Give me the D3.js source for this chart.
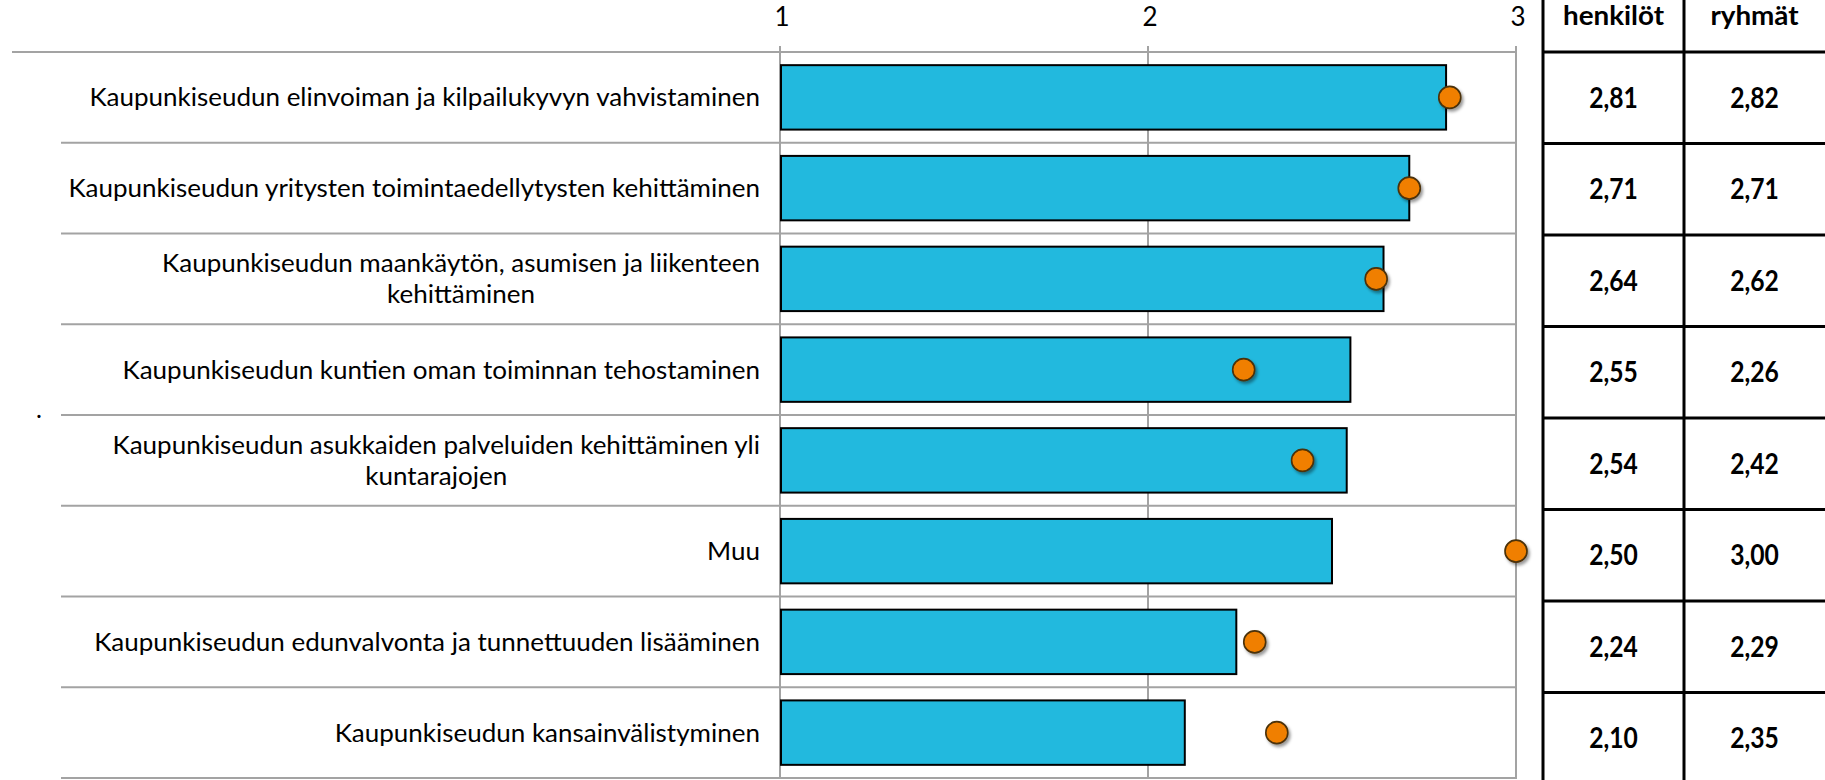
<!DOCTYPE html>
<html><head><meta charset="utf-8">
<script src="https://cdn.jsdelivr.net/npm/d3@7"></script>
<style>body{margin:0;background:#fff} svg{display:block}</style>
</head><body><svg id="c" width="1825" height="780"></svg>
<script>
// ---- data ----
const categories = [
  "Kaupunkiseudun elinvoiman ja kilpailukyvyn vahvistaminen",
  "Kaupunkiseudun yritysten toimintaedellytysten kehittäminen",
  "Kaupunkiseudun maankäytön, asumisen ja liikenteen\nkehittäminen",
  "Kaupunkiseudun kuntien oman toiminnan tehostaminen",
  "Kaupunkiseudun asukkaiden palveluiden kehittäminen yli\nkuntarajojen",
  "Muu",
  "Kaupunkiseudun edunvalvonta ja tunnettuuden lisääminen",
  "Kaupunkiseudun kansainvälistyminen"
];
const henkilot = [2.81, 2.71, 2.64, 2.55, 2.54, 2.50, 2.24, 2.10];
const ryhmat   = [2.82, 2.71, 2.62, 2.26, 2.42, 3.00, 2.29, 2.35];
const xTicks = [1, 2, 3];
const tableHeaders = ["henkilöt", "ryhmät"];

// ---- styles ----
const FONT = "Lato, 'Open Sans', sans-serif";
const LABEL_SIZE = 25, LABEL_SX = 1.04;
const VAL_SIZE = 28, VAL_SX = 0.88;
const HEAD_SIZE = 26, HEAD_SX = 1.07;

const svg = d3.select("#c");
const defs = svg.append("defs");
const f = defs.append("filter").attr("id","sh").attr("x","-50%").attr("y","-50%").attr("width","200%").attr("height","200%");
f.append("feDropShadow").attr("dx",2).attr("dy",2.5).attr("stdDeviation",1.6).attr("flood-color","#000").attr("flood-opacity",0.4);

const x = d3.scaleLinear().domain([1,3]).range([780,1516]);
const y = d3.scaleBand().domain(categories).range([52,778]).paddingInner(0.29).paddingOuter(0.145);
const step = y.step();
const yT = d3.scaleBand().domain(categories).range([52,784]);

const grid = svg.append("g");
grid.selectAll("line.v").data(xTicks).join("line")
  .attr("x1",d=>x(d)).attr("x2",d=>x(d)).attr("y1",46).attr("y2",778)
  .attr("stroke","#a3a3a3").attr("stroke-width",2);
const seps = d3.range(categories.length+1);
grid.selectAll("line.h").data(seps).join("line")
  .attr("x1",d=>d===0?12:61).attr("x2",x(3)+1)
  .attr("y1",d=>52+d*step).attr("y2",d=>52+d*step)
  .attr("stroke","#a3a3a3").attr("stroke-width",2);

// x tick labels
svg.append("g").selectAll("text").data(xTicks).join("text")
  .attr("x",d=>x(d)+2).attr("y",26).attr("text-anchor","middle")
  .attr("font-family",FONT).attr("font-size",LABEL_SIZE+1).attr("fill","#000")
  .text(d=>d);

// bars
svg.append("g").selectAll("rect").data(categories).join("rect")
  .attr("x",x(1)+1).attr("y",d=>y(d))
  .attr("width",(d,i)=>x(henkilot[i])-x(1)-1).attr("height",y.bandwidth())
  .attr("fill","#22B9DE").attr("stroke","#000").attr("stroke-width",2);

// dots
svg.append("g").selectAll("circle").data(categories).join("circle")
  .attr("cx",(d,i)=>x(ryhmat[i])).attr("cy",d=>y(d)+y.bandwidth()/2)
  .attr("r",11).attr("fill","#F07F00").attr("stroke","#4a3008").attr("stroke-width",1.6)
  .attr("filter","url(#sh)");

// category labels
const LABEL_RIGHT = 760;
const lg = svg.append("g").attr("font-family",FONT).attr("font-size",LABEL_SIZE).attr("fill","#000");
categories.forEach((c,i)=>{
  const lines = c.split("\n");
  const cy = y(c)+y.bandwidth()/2;
  const lineH = 31;
  const g = lg.append("g");
  const ts = lines.map((l,j)=>{
    const base = cy + (j-(lines.length-1)/2)*lineH + 9;
    return g.append("text").attr("text-anchor","middle").attr("data-y",base).text(l);
  });
  const widths = ts.map(t=>t.node().getComputedTextLength()*LABEL_SX);
  const maxW = d3.max(widths);
  const cx = LABEL_RIGHT - maxW/2;
  ts.forEach(t=>t.attr("transform",`translate(${cx},${t.attr("data-y")}) scale(${LABEL_SX},1)`));
});
lg.append("text").attr("x",36).attr("y",418).text(".");

// table
const tb = svg.append("g");
const colX = [1543, 1684, 1825];
const colC = [(colX[0]+colX[1])/2, (colX[1]+colX[2])/2];
tb.selectAll("line.tv").data(colX.slice(0,2)).join("line")
  .attr("x1",d=>d).attr("x2",d=>d).attr("y1",0).attr("y2",780)
  .attr("stroke","#000").attr("stroke-width",3);
const tSeps = d3.range(categories.length+1).map(i=>52+i*yT.step());
tb.selectAll("line.th").data(tSeps).join("line")
  .attr("x1",colX[0]).attr("x2",1825).attr("y1",d=>d).attr("y2",d=>d)
  .attr("stroke","#000").attr("stroke-width",3);
tb.selectAll("text.hd").data(tableHeaders).join("text")
  .attr("transform",(d,i)=>`translate(${colC[i]},25) scale(${HEAD_SX},1)`)
  .attr("text-anchor","middle").attr("font-family",FONT).attr("font-weight","bold")
  .attr("font-size",HEAD_SIZE).attr("fill","#000").text(d=>d);
const fmt = v=>d3.format(".2f")(v).replace(".",",");
[henkilot, ryhmat].forEach((arr,ci)=>{
  tb.append("g").selectAll("text").data(arr).join("text")
    .attr("transform",(d,i)=>`translate(${colC[ci]},${yT(categories[i])+yT.bandwidth()/2+10}) scale(${VAL_SX},1)`)
    .attr("text-anchor","middle").attr("font-family",FONT).attr("font-weight","bold")
    .attr("font-size",VAL_SIZE).attr("fill","#000").text(d=>fmt(d));
});
</script></body></html>
